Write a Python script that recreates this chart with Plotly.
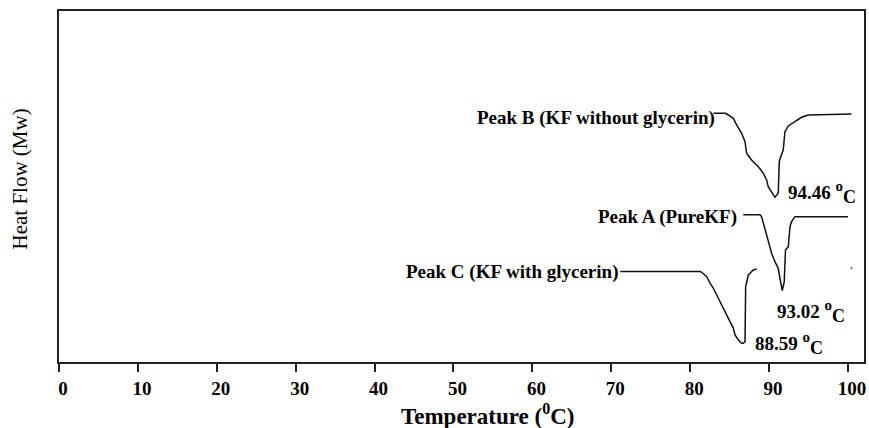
import plotly.graph_objects as go

# Peak B (KF without glycerin)
temp_b = [82.94, 84.46, 84.84, 85.47, 85.89, 86.52, 86.95, 87.15, 87.78, 88.64, 89.27,
          89.69, 89.89, 90.32, 90.74, 91.16, 91.29, 91.42, 91.79, 92.01, 92.43, 93.27,
          94.11, 94.95, 100.43]
flow_b = [70.85, 70.85, 70.37, 69.43, 67.52, 65.16, 62.76, 59.46, 57.55, 55.64, 53.76,
          51.85, 49.94, 48.52, 46.92, 48.06, 57.07, 58.12, 60.40, 65.61, 67.24, 68.46,
          69.72, 70.37, 70.66]

# Peak A (Pure KF)
temp_a = [86.73, 88.84, 89.05, 89.27, 89.48, 89.69, 89.89, 90.11, 90.32, 90.74, 91.16,
          91.38, 91.58, 91.67, 91.92, 92.08, 92.43, 92.65, 92.84, 93.27, 100.01]
flow_a = [41.97, 41.97, 41.40, 39.52, 38.55, 36.67, 34.76, 32.85, 30.97, 28.58, 26.70,
          23.85, 20.80, 20.31, 22.88, 31.91, 32.85, 38.55, 39.97, 41.40, 41.40]

# Peak C (KF with glycerin)
temp_c = [71.14, 81.26, 81.47, 82.09, 82.53, 82.94, 83.36, 83.79, 84.21, 84.63, 85.05,
          85.47, 85.69, 86.10, 86.52, 86.73, 86.95, 87.03, 87.37, 88.00, 88.42]
flow_c = [25.78, 25.78, 25.56, 24.30, 22.42, 21.00, 19.09, 17.18, 15.30, 13.39, 11.48,
          9.60, 7.69, 6.27, 5.33, 5.33, 5.78, 21.45, 24.79, 26.21, 26.50]

# small stray point visible in the scan
stray_temp = [100.43]
stray_flow = [26.70]

x_ticks = [0, 10, 20, 30, 40, 50, 60, 70, 80, 90, 100]

peak_labels = ["Peak B (KF without glycerin)", "Peak A (PureKF)", "Peak C (KF with glycerin)"]
peak_temps = ["94.46", "93.02", "88.59"]

FONT = "Liberation Serif, Times New Roman, serif"
LINE = "#111111"

fig = go.Figure()
for tx, fy in [(temp_b, flow_b), (temp_a, flow_a), (temp_c, flow_c)]:
    fig.add_trace(go.Scatter(x=tx, y=fy, mode="lines",
                             line=dict(color=LINE, width=1.5), showlegend=False,
                             hoverinfo="skip"))
fig.add_trace(go.Scatter(x=stray_temp, y=stray_flow, mode="markers",
                         marker=dict(color="#555", size=2), showlegend=False,
                         hoverinfo="skip"))

# series labels (placed at the left end of each baseline)
label_pos = [(83.46, 69.4), (86.13, 41.4), (71.08, 25.6)]
for txt, (lx, ly) in zip(peak_labels, label_pos):
    fig.add_annotation(x=lx, y=ly, text=txt, showarrow=False, xanchor="right",
                       yanchor="middle", font=dict(family=FONT, size=19, color="black",
                                                   weight="bold"))

# peak temperature labels
peak_pos = [(92.14, 48.3), (90.74, 14.3), (88.00, 5.2)]
for txt, (px, py) in zip(peak_temps, peak_pos):
    fig.add_annotation(
        x=px, y=py,
        text=(f"{txt} <sup><span style='font-size:15px'>o</span></sup>"
              f"<sub><span style='font-size:18px'>C</span></sub>"),
        showarrow=False, xanchor="left", yanchor="middle",
        font=dict(family=FONT, size=19, color="black", weight="bold"))

# axis titles
fig.add_annotation(xref="paper", yref="paper", x=0.533, y=-0.150,
                   text="Temperature (<sup>0</sup>C)", showarrow=False,
                   xanchor="center", yanchor="middle",
                   font=dict(family=FONT, size=23, color="black", weight="bold"))
fig.add_annotation(xref="paper", yref="paper", x=-0.048, y=0.521,
                   text="Heat Flow (Mw)", showarrow=False, textangle=-90,
                   xanchor="center", yanchor="middle",
                   font=dict(family=FONT, size=21, color="black"))

fig.update_layout(
    width=869, height=428,
    margin=dict(l=59, r=3, t=11, b=66),
    paper_bgcolor="white", plot_bgcolor="white",
    xaxis=dict(range=[0, 102.03], tickvals=x_ticks, ticks="outside", ticklen=8,
               tickwidth=1.5, tickcolor="#222", showgrid=False, zeroline=False,
               showline=True, linecolor="#222", linewidth=1.5, mirror=True,
               ticklabelshift=4,
               tickfont=dict(family=FONT, size=19, color="black", weight="bold")),
    yaxis=dict(range=[0, 100], showticklabels=False, ticks="", showgrid=False,
               zeroline=False, showline=True, linecolor="#222", linewidth=1.5,
               mirror=True),
)

fig.write_html("out.html", config={"displayModeBar": False},
               post_script="document.body.style.margin='0px';"
                           "document.body.style.overflow='hidden';")
